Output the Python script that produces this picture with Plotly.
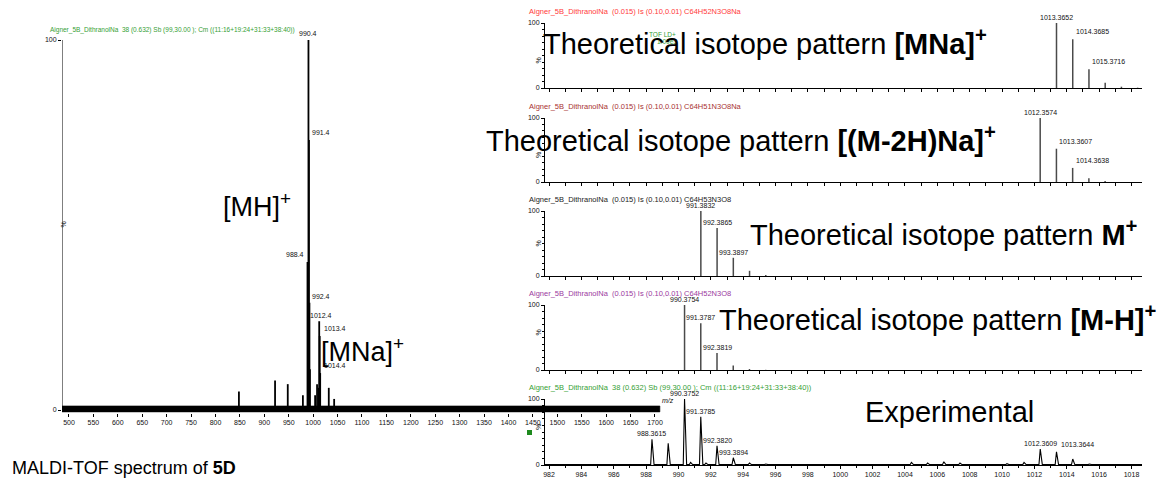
import plotly.graph_objects as go

W, H = 1166, 485

# ---------------- data ----------------
# full-range MALDI-TOF spectrum (m/z, relative intensity %)
full_mz = [848, 922, 948, 979, 988.4, 989.4, 990.4, 991.4, 992.4, 993.4,
           1004, 1008, 1011.4, 1012.4, 1013.4, 1014.4, 1032, 1043]
full_int = [5, 8, 7, 4, 40, 25, 100, 73, 29, 11,
            4, 7, 6, 24, 20, 10, 6, 3]
full_labelled = [990.4, 991.4, 988.4, 992.4, 1012.4, 1013.4, 1014.4]
full_noise = (-0.5, 1.1)          # baseline noise band, %
full_mz_span = (485, 1710)
full_ticks = list(range(500, 1701, 50))

# theoretical isotope patterns
mna_mz = [1013.3652, 1014.3685, 1015.3716, 1016.375, 1017.378, 1018.381]
mna_int = [100, 75, 29, 8, 2, 0.5]
mna_labelled = [1013.3652, 1014.3685, 1015.3716]

m2hna_mz = [1012.3574, 1013.3607, 1014.3638, 1015.367, 1016.370]
m2hna_int = [100, 52, 22, 6, 1.5]
m2hna_labelled = [1012.3574, 1013.3607, 1014.3638]

m_mz = [991.3832, 992.3865, 993.3897, 994.393, 995.396]
m_int = [100, 74, 28, 8, 1.5]
m_labelled = [991.3832, 992.3865, 993.3897]

mh_mz = [990.3754, 991.3787, 992.3819, 993.385, 994.388, 995.391]
mh_int = [100, 72, 26, 7, 1.5, 0.3]
mh_labelled = [990.3754, 991.3787, 992.3819]

# experimental (zoomed) spectrum
exp_mz = [988.3615, 989.365, 990.3752, 990.75, 991.3785, 991.7, 992.3820,
          993.3894, 994.39, 995.4, 1004.4, 1005.4, 1006.4, 1007.4, 1010.3,
          1011.36, 1012.3609, 1013.3644, 1014.37, 1015.4]
exp_int = [39, 33, 100, 4, 73, 3, 29,
           11, 3, 1.5, 4, 3, 5, 3, 2,
           4, 24, 20, 9, 1.5]
exp_labelled = [990.3752, 991.3785, 988.3615, 992.3820, 993.3894, 1012.3609, 1013.3644]

zoom_range = (981.75, 1018.65)

headers = [
    "Aigner_5B_DithranolNa  (0.015) Is (0.10,0.01) C64H52N3O8Na",
    "Aigner_5B_DithranolNa  (0.015) Is (0.10,0.01) C64H51N3O8Na",
    "Aigner_5B_DithranolNa  (0.015) Is (0.10,0.01) C64H53N3O8",
    "Aigner_5B_DithranolNa  (0.015) Is (0.10,0.01) C64H52N3O8",
    "Aigner_5B_DithranolNa  38 (0.632) Sb (99,30.00 ); Cm ((11:16+19:24+31:33+38:40))",
]
header_colors = ["#ff3b3b", "#a83232", "#222222", "#9b3aa0", "#35a035"]

FONT = "Liberation Sans, Arial, sans-serif"
INK = "#111111"


def fx(px):
    return px / W


def fy(py):
    return 1 - py / H


def sticks(mz, inten):
    xs, ys = [], []
    for m, v in zip(mz, inten):
        xs += [m, m, None]
        ys += [0, v, None]
    return xs, ys


def profile(mz, inten, lo, hi, base=0.6, hw=0.08):
    xs, ys = [lo], [base]
    for m, v in sorted(zip(mz, inten)):
        xs += [m - hw, m, m + hw * 1.6]
        ys += [base, v, base]
    xs.append(hi)
    ys.append(base)
    return xs, ys


fig = go.Figure()
ann = []

# ---------------- left panel ----------------
bx = [full_mz_span[0], full_mz_span[1], full_mz_span[1], full_mz_span[0]]
by = [full_noise[0], full_noise[0], full_noise[1], full_noise[1]]
fig.add_trace(go.Scatter(x=bx, y=by, fill="toself", fillcolor="black",
                         line=dict(width=0.6, color="black"), mode="lines",
                         xaxis="x", yaxis="y", hoverinfo="skip"))
sx, sy = sticks(full_mz, full_int)
fig.add_trace(go.Scatter(x=sx, y=sy, mode="lines", line=dict(color="black", width=1.8),
                         xaxis="x", yaxis="y"))

left_label_style = {
    990.4: dict(xanchor="center", xshift=0, yshift=1),
    991.4: dict(xanchor="left", xshift=1, yshift=2),
    988.4: dict(xanchor="right", xshift=-1, yshift=2),
    992.4: dict(xanchor="left", xshift=1, yshift=1),
    1012.4: dict(xanchor="center", xshift=2, yshift=0),
    1013.4: dict(xanchor="left", xshift=2, yshift=2),
    1014.4: dict(xanchor="left", xshift=2, yshift=2),
}
for m in full_labelled:
    v = full_int[full_mz.index(m)]
    st = left_label_style[m]
    ann.append(dict(x=m, y=v, xref="x", yref="y", text=f"{m:.1f}", showarrow=False,
                    yanchor="bottom", font=dict(size=7, color=INK, family=FONT), **st))

# ---------------- right panels ----------------
panels = [
    (mna_mz, mna_int, mna_labelled, 23, 88),
    (m2hna_mz, m2hna_int, m2hna_labelled, 118, 182),
    (m_mz, m_int, m_labelled, 211, 276),
    (mh_mz, mh_int, mh_labelled, 305, 370),
    (exp_mz, exp_int, exp_labelled, 399, 465),
]
hooked = {1014.3685, 1015.3716, 1013.3607, 1014.3638, 1013.3644}

layout_axes = {}
for i, (mz, inten, lab, ytop, ybot) in enumerate(panels):
    k = i + 2
    xa, ya = f"x{k}", f"y{k}"
    if i < 4:
        sx, sy = sticks(mz, inten)
        fig.add_trace(go.Scatter(x=sx, y=sy, mode="lines",
                                 line=dict(color="#4a4a4a", width=1.5),
                                 xaxis=xa, yaxis=ya))
    else:
        px_, py_ = profile(mz, inten, *zoom_range)
        fig.add_trace(go.Scatter(x=px_, y=py_, mode="lines",
                                 line=dict(color="black", width=1.1),
                                 xaxis=xa, yaxis=ya))
    for m in lab:
        v = inten[mz.index(m)]
        if m in hooked:
            st = dict(xanchor="left", xshift=1 if i < 4 else 3, yshift=2)
        else:
            st = dict(xanchor="center", xshift=0, yshift=0)
        ann.append(dict(x=m, y=v, xref=xa, yref=ya, text=f"{m:.4f}", showarrow=False,
                        yanchor="bottom", font=dict(size=7, color=INK, family=FONT), **st))
    # header text
    ann.append(dict(x=fx(527), y=fy(ytop - 12), xref="paper", yref="paper",
                    text=headers[i], showarrow=False, xanchor="left", yanchor="middle",
                    font=dict(size=7.5, color=header_colors[i], family=FONT)))
    # rotated percent label
    ann.append(dict(x=fx(538), y=fy((ytop + ybot) / 2), xref="paper", yref="paper",
                    text="%", textangle=-90, showarrow=False,
                    font=dict(size=7, color=INK, family=FONT)))
    xax = dict(domain=[fx(545), fx(1142)], range=list(zoom_range), anchor=ya,
               showline=True, linecolor="black", linewidth=1, showgrid=False,
               zeroline=False, ticks="outside", ticklen=3, tickcolor="black",
               tick0=982, dtick=1, showticklabels=False,
               tickfont=dict(size=7, color=INK, family=FONT))
    if i == 4:
        xax.update(dtick=2, showticklabels=True,
                   minor=dict(tick0=982, dtick=1, ticks="outside", ticklen=2, tickcolor="black"))
    yax = dict(domain=[fy(ybot), fy(ytop)], range=[0, 100], anchor=xa,
               showline=True, linecolor="black", linewidth=1, showgrid=False,
               zeroline=False, ticks="outside", ticklen=3, tickcolor="black",
               tickmode="array", tickvals=[0, 100], ticktext=["0", "100"],
               minor=dict(tickmode="linear", tick0=0, dtick=10, ticks="outside",
                          ticklen=2, tickcolor="black"),
               tickfont=dict(size=7, color=INK, family=FONT))
    layout_axes[f"xaxis{k}"] = xax
    layout_axes[f"yaxis{k}"] = yax

# left axes
layout_axes["xaxis"] = dict(domain=[fx(62), fx(665)], range=[485.7, 1720.5], anchor="y",
                            showline=False, showgrid=False, zeroline=False,
                            ticks="outside", ticklen=3, tickcolor="black",
                            tickmode="array", tickvals=full_ticks,
                            ticktext=[str(t) for t in full_ticks],
                            tickfont=dict(size=7, color=INK, family=FONT))
layout_axes["yaxis"] = dict(domain=[fy(413), fy(40)], range=[-0.8, 100], anchor="x",
                            showline=False, showgrid=False, zeroline=False,
                            ticks="outside", ticklen=3, tickcolor="black",
                            tickmode="array", tickvals=[0, 100], ticktext=["0", "100"],
                            tickfont=dict(size=7, color=INK, family=FONT))
# left y axis line from 0 to 100
fig.add_trace(go.Scatter(x=[485.7, 485.7], y=[0, 100], mode="lines",
                         line=dict(color="black", width=1), xaxis="x", yaxis="y",
                         hoverinfo="skip", cliponaxis=False))

# left panel texts
ann += [
    dict(x=fx(48), y=fy(30), xref="paper", yref="paper", showarrow=False,
         xanchor="left", yanchor="middle",
         text="Aigner_5B_DithranolNa  38 (0.632) Sb (99,30.00 ); Cm ((11:16+19:24+31:33+38:40))",
         font=dict(size=6.5, color="#35a035", family=FONT)),
    dict(x=fx(57), y=fy(225), xref="paper", yref="paper", text="%", textangle=-90,
         showarrow=False, font=dict(size=7, color=INK, family=FONT)),
    dict(x=fx(660), y=fy(406), xref="paper", yref="paper", text="<i>m/z</i>",
         showarrow=False, xanchor="left", font=dict(size=7, color=INK, family=FONT)),
    dict(x=fx(647), y=fy(29), xref="paper", yref="paper", text="TOF LD+",
         showarrow=False, xanchor="left", font=dict(size=6.5, color="#35a035", family=FONT)),
    dict(x=fx(655), y=fy(36), xref="paper", yref="paper", text="1.00e3",
         showarrow=False, xanchor="left", font=dict(size=6.5, color="#35a035", family=FONT)),
]

# large captions
big = [
    (765, 42, "Theoretical isotope pattern <b>[MNa]<sup>+</sup></b>", 29),
    (741, 139, "Theoretical isotope pattern <b>[(M-2H)Na]<sup>+</sup></b>", 29),
    (944, 233, "Theoretical isotope pattern <b>M<sup>+</sup></b>", 29),
    (938, 318, "Theoretical isotope pattern <b>[M-H]<sup>+</sup></b>", 29),
    (949, 412, "Experimental", 29),
    (257, 205, "[MH]<sup>+</sup>", 27),
    (362, 350, "[MNa]<sup>+</sup>", 27),
]
for x, y, t, s in big:
    ann.append(dict(x=fx(x), y=fy(y), xref="paper", yref="paper", text=t, showarrow=False,
                    xanchor="center", yanchor="middle",
                    font=dict(size=s, color="black", family=FONT)))
ann.append(dict(x=fx(10), y=fy(468), xref="paper", yref="paper", showarrow=False,
                xanchor="left", yanchor="middle",
                text="MALDI-TOF spectrum of <b>5D</b>",
                font=dict(size=18, color="black", family=FONT)))

fig.update_layout(
    template="none",
    width=W, height=H, margin=dict(l=0, r=0, t=0, b=0),
    paper_bgcolor="white", plot_bgcolor="rgba(0,0,0,0)",
    font=dict(family=FONT, color=INK),
    showlegend=False, annotations=ann,
    shapes=[dict(type="rect", xref="paper", yref="paper",
                 x0=fx(527), x1=fx(532), y0=fy(435), y1=fy(430),
                 fillcolor="#1e8a1e", line=dict(width=0))],
    **layout_axes,
)

fig.write_html("out.html")
